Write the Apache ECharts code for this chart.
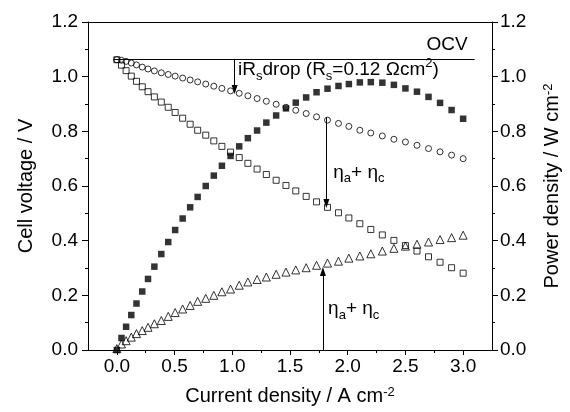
<!DOCTYPE html>
<html>
<head>
<meta charset="utf-8">
<script src="https://cdn.jsdelivr.net/npm/echarts@6/dist/echarts.min.js"></script>
<style>
  html, body { margin: 0; padding: 0; background: #fff; }
  #chart { width: 570px; height: 412px; }
</style>
</head>
<body>
<div id="chart"></div>
<script>
// Polarisation data: current density (A cm-2) and the four measured curves
const currentDensity = [
  0, 0.04, 0.08, 0.125, 0.17, 0.22, 0.27, 0.325, 0.385, 0.445,
  0.505, 0.57, 0.635, 0.70, 0.77, 0.84, 0.91, 0.985, 1.06, 1.135,
  1.215, 1.295, 1.38, 1.465, 1.55, 1.64, 1.73, 1.825, 1.92, 2.01,
  2.105, 2.2, 2.3, 2.4, 2.5, 2.6, 2.7, 2.8, 2.9, 3.0
];
// iR-corrected voltage (V), open circles
const irFreeVoltage = [
  1.062, 1.060, 1.056, 1.050, 1.043, 1.035, 1.028, 1.021, 1.014, 1.008,
  1.002, 0.995, 0.988, 0.981, 0.973, 0.965, 0.957, 0.948, 0.939, 0.930,
  0.920, 0.910, 0.899, 0.888, 0.877, 0.865, 0.853, 0.841, 0.829, 0.818,
  0.804, 0.794, 0.783, 0.771, 0.761, 0.749, 0.737, 0.725, 0.713, 0.700
];
// Cell voltage (V), open squares
const cellVoltage = [
  1.062, 1.042, 1.022, 1.002, 0.983, 0.963, 0.945, 0.926, 0.907, 0.888,
  0.869, 0.848, 0.826, 0.804, 0.786, 0.765, 0.745, 0.724, 0.704, 0.683,
  0.662, 0.642, 0.621, 0.602, 0.582, 0.562, 0.542, 0.522, 0.502, 0.483,
  0.462, 0.441, 0.421, 0.401, 0.382, 0.362, 0.341, 0.321, 0.301, 0.281
];
// Power density (W cm-2), filled squares
const powerDensity = [
  0.000, 0.044, 0.085, 0.128, 0.170, 0.214, 0.260, 0.305, 0.351, 0.395,
  0.439, 0.481, 0.522, 0.560, 0.600, 0.638, 0.674, 0.710, 0.745, 0.775,
  0.803, 0.832, 0.858, 0.884, 0.905, 0.924, 0.943, 0.956, 0.966, 0.973,
  0.979, 0.980, 0.978, 0.970, 0.957, 0.945, 0.926, 0.904, 0.878, 0.846
];
// Anode + cathode overpotential (V), open triangles
const overpotential = [
  0.005, 0.022, 0.034, 0.047, 0.060, 0.071, 0.083, 0.096, 0.108, 0.123,
  0.137, 0.150, 0.163, 0.178, 0.189, 0.200, 0.213, 0.223, 0.237, 0.249,
  0.258, 0.267, 0.277, 0.285, 0.293, 0.301, 0.310, 0.318, 0.325, 0.336,
  0.344, 0.352, 0.362, 0.372, 0.380, 0.387, 0.395, 0.404, 0.411, 0.420
];
// Axis ticks
const xMajorTicks = [0, 0.5, 1.0, 1.5, 2.0, 2.5, 3.0];
const xMinorTicks = [0.25, 0.75, 1.25, 1.75, 2.25, 2.75];
const ocvVoltage = 1.065;

const FONT = '"Liberation Sans", Arial, Helvetica, sans-serif';
const BLACK = '#000';

const chart = echarts.init(document.getElementById('chart'), null, { renderer: 'canvas' });
const pairs = ys => currentDensity.map((x, i) => [x, ys[i]]);

const openMarker = { color: 'transparent', borderColor: BLACK, borderWidth: 1 };
const fmt1 = v => v.toFixed(1);

const yAxisBase = {
  type: 'value', min: 0, max: 1.2, interval: 0.2,
  axisLine: { show: true, onZero: false, lineStyle: { color: BLACK, width: 1 } },
  axisTick: { show: true, length: 6, lineStyle: { color: BLACK, width: 1 } },
  minorTick: { show: true, splitNumber: 2, length: 3, lineStyle: { color: BLACK, width: 1 } },
  axisLabel: { color: BLACK, fontSize: 19, fontFamily: FONT, margin: 10, formatter: fmt1 },
  splitLine: { show: false },
  nameLocation: 'middle', nameRotate: 90,
  nameTextStyle: {
    color: BLACK, fontSize: 20, fontFamily: FONT,
    rich: { sup: { fontSize: 13, fontFamily: FONT, color: BLACK, verticalAlign: 'top' } }
  }
};

// Arrow ends: plain start, arrow head at the end
const noEnd = { symbol: 'none' };
const arrowEnd = { symbol: 'triangle', symbolSize: [6, 9] };

chart.setOption({
  animation: false,
  backgroundColor: '#fff',
  grid: { left: 88, right: 78, top: 22, bottom: 62, containLabel: false },
  xAxis: [
    {
      type: 'value', min: -0.25, max: 3.25, position: 'bottom',
      axisLine: { show: true, onZero: false, lineStyle: { color: BLACK, width: 1 } },
      axisTick: { show: true, customValues: xMajorTicks, length: 5, lineStyle: { color: BLACK, width: 1 } },
      axisLabel: { customValues: xMajorTicks, color: BLACK, fontSize: 19, fontFamily: FONT, margin: 7, formatter: fmt1 },
      splitLine: { show: false },
      name: 'Current density / A cm{sup|-2}',
      nameLocation: 'middle', nameGap: 36,
      nameTextStyle: {
        color: BLACK, fontSize: 20, fontFamily: FONT,
        rich: { sup: { fontSize: 13, fontFamily: FONT, color: BLACK, verticalAlign: 'top' } }
      }
    },
    {
      type: 'value', min: -0.25, max: 3.25, position: 'bottom',
      axisLine: { show: false, onZero: false },
      axisTick: { show: true, customValues: xMinorTicks, length: 3, lineStyle: { color: BLACK, width: 1 } },
      axisLabel: { show: false },
      splitLine: { show: false }
    },
    {
      type: 'value', min: -0.25, max: 3.25, position: 'top',
      axisLine: { show: true, onZero: false, lineStyle: { color: BLACK, width: 1 } },
      axisTick: { show: false }, axisLabel: { show: false }, splitLine: { show: false }
    }
  ],
  yAxis: [
    Object.assign({}, yAxisBase, { position: 'left', name: 'Cell voltage / V', nameGap: 52 }),
    Object.assign({}, yAxisBase, {
      position: 'right', name: 'Power density / W cm{sup|-2}', nameGap: 50,
      axisLabel: Object.assign({}, yAxisBase.axisLabel, { margin: 8 })
    })
  ],
  series: [
    {
      name: 'Power density', type: 'scatter', xAxisIndex: 0, yAxisIndex: 1,
      symbol: 'rect', symbolSize: 6.5,
      itemStyle: { color: BLACK },
      data: pairs(powerDensity)
    },
    {
      name: 'iR-free voltage', type: 'scatter', xAxisIndex: 0, yAxisIndex: 0,
      symbol: 'circle', symbolSize: 6,
      itemStyle: openMarker,
      data: pairs(irFreeVoltage)
    },
    {
      name: 'Cell voltage', type: 'scatter', xAxisIndex: 0, yAxisIndex: 0,
      symbol: 'rect', symbolSize: 6,
      itemStyle: openMarker,
      data: pairs(cellVoltage),
      markLine: {
        silent: true, animation: false,
        symbol: 'none', symbolSize: 8,
        label: { show: false },
        lineStyle: { color: BLACK, width: 1, type: 'solid' },
        itemStyle: { color: BLACK },
        emphasis: { disabled: true },
        data: [
          [Object.assign({ coord: [-0.03, ocvVoltage] }, noEnd), Object.assign({ coord: [3.1, ocvVoltage] }, noEnd)],
          [Object.assign({ coord: [1.02, ocvVoltage] }, noEnd), Object.assign({ coord: [1.02, 0.953] }, arrowEnd)],
          [Object.assign({ coord: [1.815, 0.852] }, noEnd), Object.assign({ coord: [1.815, 0.536] }, arrowEnd)],
          [Object.assign({ coord: [1.785, 0] }, noEnd), Object.assign({ coord: [1.785, 0.287] }, arrowEnd)]
        ]
      }
    },
    {
      name: 'Overpotential', type: 'scatter', xAxisIndex: 0, yAxisIndex: 0,
      symbol: 'triangle', symbolSize: 8,
      itemStyle: openMarker,
      data: pairs(overpotential)
    }
  ]
});

// Text annotations anchored in data coordinates
const richStyles = {
  sub: { fontSize: 13, fontFamily: FONT, fill: BLACK, verticalAlign: 'bottom' },
  sup: { fontSize: 13, fontFamily: FONT, fill: BLACK, verticalAlign: 'top' },
  m: { fontSize: 19, fontFamily: FONT, fill: BLACK, lineHeight: 26 }
};
const notes = [
  { at: [3.04, 1.117], align: 'right', text: '{m|OCV}' },
  { at: [1.05, 1.024], align: 'left', text: '{m|iR}{sub|s}{m|drop (R}{sub|s}{m|=0.12 \u03A9cm}{sup|2}{m|)}' },
  { at: [1.875, 0.650], align: 'left', text: '{m|\u03B7}{sub|a}{m|+ \u03B7}{sub|c}' },
  { at: [1.83, 0.152], align: 'left', text: '{m|\u03B7}{sub|a}{m|+ \u03B7}{sub|c}' }
];
chart.setOption({
  graphic: notes.map(n => {
    const p = chart.convertToPixel({ xAxisIndex: 0, yAxisIndex: 0 }, n.at);
    return {
      type: 'text', x: p[0], y: p[1], silent: true,
      style: {
        text: n.text, rich: richStyles, fill: BLACK,
        font: '19px ' + FONT,
        align: n.align, verticalAlign: 'middle'
      }
    };
  })
});
</script>
</body>
</html>
